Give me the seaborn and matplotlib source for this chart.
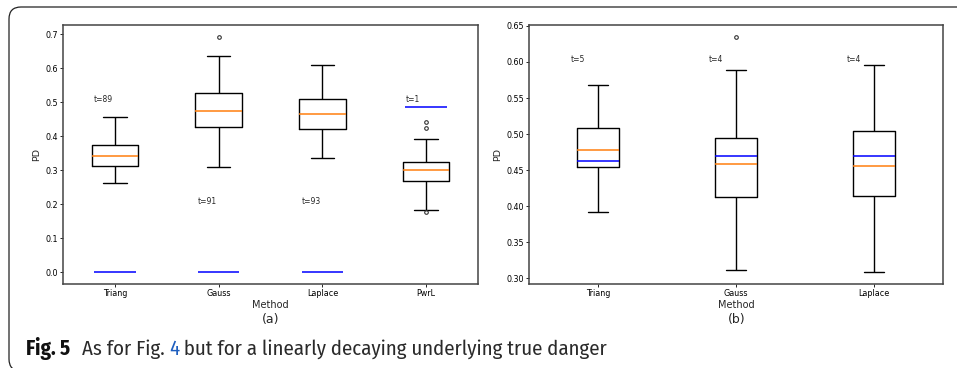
import numpy as np
import pandas as pd
import matplotlib
matplotlib.use("Agg")
import matplotlib.pyplot as plt
import seaborn as sns
from matplotlib.patches import FancyBboxPatch
from matplotlib import font_manager

# ---------------- data ----------------
methods_a = ["Triang", "Gauss", "Laplace", "PwrL"]
a_lo = [0.261, 0.309, 0.335, 0.1833]
a_q1 = [0.311, 0.4255, 0.4196, 0.2667]
a_med = [0.342, 0.4735, 0.464, 0.300]
a_q3 = [0.3725, 0.528, 0.508, 0.3245]
a_hi = [0.455, 0.636, 0.610, 0.391]
a_fliers_lo = [[], [], [], [0.1765]]
a_fliers_hi = [[], [0.692], [], [0.4245, 0.442]]
a_true = [0.0, 0.0, 0.0, 0.487]
a_tlabels = ["t=89", "t=91", "t=93", "t=1"]
a_ty = [0.5, 0.2, 0.2, 0.5]

methods_b = ["Triang", "Gauss", "Laplace"]
b_lo = [0.392, 0.3115, 0.3083]
b_q1 = [0.455, 0.4133, 0.4147]
b_med = [0.4778, 0.4583, 0.4556]
b_q3 = [0.5078, 0.4944, 0.5046]
b_hi = [0.568, 0.589, 0.5953]
b_fliers_lo = [[], [], []]
b_fliers_hi = [[], [0.635], []]
b_true = [0.4625, 0.469, 0.469]
b_tlabels = ["t=5", "t=4", "t=4"]
b_ty = [0.6, 0.6, 0.6]

caption_parts = ["Fig. 5", "As for Fig. ", "4", " but for a linearly decaying underlying true danger"]
caption_weights = ["bold", "normal", "normal", "normal"]
caption_colors = ["#111111", "#2a2a2a", "#1f5fbf", "#2a2a2a"]


def sample_from_summary(lo, q1, med, q3, hi, fl_lo, fl_hi):
    """Sorted sample whose linear quartiles equal q1/med/q3 exactly."""
    t = max(len(fl_lo), len(fl_hi)) + 1
    low = list(fl_lo) + [lo] + [q1] * (t - len(fl_lo) - 1)
    high = [q3] * (t - len(fl_hi) - 1) + [hi] + list(fl_hi)
    return low + [q1] * t + [med] + [q3] * t + high


def long_frame(methods, lo, q1, med, q3, hi, fl_lo, fl_hi):
    rows = []
    for i, m in enumerate(methods):
        for v in sample_from_summary(lo[i], q1[i], med[i], q3[i], hi[i],
                                     fl_lo[i], fl_hi[i]):
            rows.append((m, v))
    return pd.DataFrame(rows, columns=["Method", "PD"])


df_a = long_frame(methods_a, a_lo, a_q1, a_med, a_q3, a_hi, a_fliers_lo, a_fliers_hi)
df_b = long_frame(methods_b, b_lo, b_q1, b_med, b_q3, b_hi, b_fliers_lo, b_fliers_hi)

sns.set_style("ticks")
plt.rcParams["font.family"] = ["DejaVu Sans"]

W, H, DPI = 957, 368, 100
fig = plt.figure(figsize=(W / DPI, H / DPI), dpi=DPI)


def px_axes(l, t, r, b):
    return fig.add_axes([l / W, 1 - b / H, (r - l) / W, (b - t) / H])


ax_a = px_axes(63, 25, 478, 284)
ax_b = px_axes(529, 25, 943, 284)

box_kw = dict(fill=False, color="black", linewidth=1.0, fliersize=2.6,
              medianprops={"color": "#ff7f0e", "linewidth": 1.1},
              flierprops={"marker": "o", "markerfacecolor": "none",
                          "markeredgecolor": "#333333", "markeredgewidth": 0.8})

sns.boxplot(data=df_a, x="Method", y="PD", order=methods_a, width=0.45, ax=ax_a, **box_kw)
sns.boxplot(data=df_b, x="Method", y="PD", order=methods_b, width=0.3, ax=ax_b, **box_kw)

for i in range(len(methods_a)):
    ax_a.hlines(a_true[i], i - 0.2, i + 0.2, color="blue", linewidth=1.1, zorder=5)
    ax_a.text(i - 0.2, a_ty[i], a_tlabels[i], fontsize=5.5, ha="left", va="baseline")
for i in range(len(methods_b)):
    ax_b.hlines(b_true[i], i - 0.15, i + 0.15, color="blue", linewidth=1.1, zorder=5)
    ax_b.text(i - 0.2, b_ty[i], b_tlabels[i], fontsize=5.5, ha="left", va="baseline")

ax_a.set_xlim(-0.5, len(methods_a) - 0.5)
ax_b.set_xlim(-0.5, len(methods_b) - 0.5)
ax_a.set_ylim(-0.0346, 0.7266)
ax_b.set_ylim(0.292, 0.6513)
ax_a.set_yticks([0.0, 0.1, 0.2, 0.3, 0.4, 0.5, 0.6, 0.7])
ax_b.set_yticks([0.30, 0.35, 0.40, 0.45, 0.50, 0.55, 0.60, 0.65])
ax_b.set_yticklabels([f"{v:.2f}" for v in ax_b.get_yticks()])

for ax in (ax_a, ax_b):
    ax.tick_params(axis="both", labelsize=5.8, length=2, width=0.6, pad=1.5,
                   colors="black")
    for s in ax.spines.values():
        s.set_visible(True)
        s.set_linewidth(1.1)
        s.set_color("#444444")
    ax.set_xlabel("Method", fontsize=7, labelpad=1.5)
    ax.set_ylabel("PD", fontsize=6.8, labelpad=3)

fig.text(271 / W, 1 - 320 / H, "(a)", fontsize=9, ha="center", va="center")
fig.text(737 / W, 1 - 320 / H, "(b)", fontsize=9, ha="center", va="center")

# frame around the figure
frame = FancyBboxPatch((9 / DPI, -3 / DPI), (1000 - 9) / DPI, (368 - 7 + 3) / DPI,
                       boxstyle="round,pad=0,rounding_size=0.12",
                       transform=fig.dpi_scale_trans, fill=False,
                       edgecolor="#222222", linewidth=0.9, clip_on=False)
fig.add_artist(frame)

# caption, laid out on one baseline and fitted to the reference's width
avail = {f.name for f in font_manager.fontManager.ttflist}
cap_family = "DejaVu Sans"
for cand in ["Fira Sans Semi Condensed", "Fira Sans Condensed", "PT Sans Narrow", "Open Sans"]:
    if cand in avail:
        cap_family = cand
        break

r = fig.canvas.get_renderer()
cap_left, cap_right, cap_base = 26, 607, 355
gap_em = 0.55
texts = [fig.text(0, 1 - cap_base / H, s, fontweight=wt, family=cap_family, color=c,
                  ha="left", va="baseline")
         for s, wt, c in zip(caption_parts, caption_weights, caption_colors)]


def layout(size):
    x = cap_left
    for k, t in enumerate(texts):
        t.set_fontsize(size)
        if k == 1:
            x += gap_em * size * DPI / 72
        t.set_x(x / W)
        x = t.get_window_extent(r).x1
    return x


size = 14.0
for _ in range(3):
    end = layout(size)
    size *= (cap_right - cap_left) / (end - cap_left)
layout(size)

fig.savefig("out.png", dpi=DPI)
